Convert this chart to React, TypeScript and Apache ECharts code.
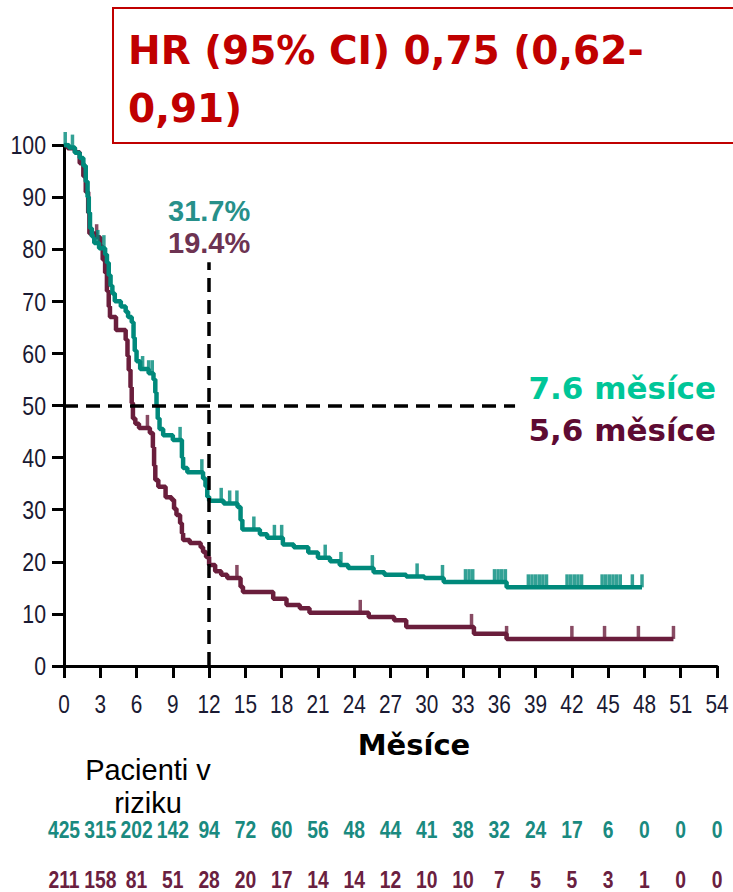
import React, { useEffect, useRef } from "react";
import * as echarts from "echarts";

// Kaplan–Meier steps: time in months, survival in %
const TEAL_TIME = [0, 0.4, 0.9, 1.3, 1.6, 1.8, 1.95, 2.05, 2.15, 2.3, 2.5, 2.9, 3.4, 3.55, 3.7, 3.85, 4.0, 4.2, 4.7, 5.1, 5.3, 5.6, 5.75, 5.85, 6.0, 6.3, 7.0, 7.4, 7.55, 7.65, 7.75, 7.9, 8.2, 9.0, 9.75, 9.85, 10.2, 11.5, 11.7, 11.85, 12.0, 13.2, 14.35, 14.6, 14.75, 16.2, 16.8, 18.1, 19.0, 20.2, 21.0, 22.0, 22.8, 23.5, 25.6, 26.5, 28.3, 29.8, 31.4, 36.6, 47.8];
const TEAL_SURV = [100, 99.5, 98.5, 97.5, 96, 93, 90, 87, 84, 82.5, 81.2, 80.2, 79, 77.4, 75, 73, 71.5, 70, 69, 68, 67, 66, 63, 60.5, 58.5, 57, 56.2, 55, 52.5, 50, 47.5, 45.5, 44.3, 43.4, 40, 38, 37.2, 36, 34.5, 32.5, 31.7, 31.2, 30.5, 28, 26.2, 25.3, 24.6, 23.3, 22.8, 21.8, 20.8, 20.1, 19.4, 18.8, 18.0, 17.5, 17.2, 16.9, 16.1, 15.1, 15.1];
const TEAL_CENSOR = [0.1, 0.7, 2.8, 3.3, 6.5, 7.0, 7.3, 9.6, 11.4, 13.0, 13.7, 14.3, 15.7, 17.4, 18.0, 21.6, 22.9, 25.5, 29.2, 31.3, 33.2, 33.5, 33.8, 35.6, 35.9, 36.2, 36.5, 38.4, 38.7, 39.0, 39.3, 39.6, 39.9, 41.6, 41.9, 42.2, 42.5, 42.8, 44.5, 44.8, 45.1, 45.4, 45.7, 46.0, 47.0, 47.8];

const MAROON_TIME = [0, 0.3, 0.9, 1.3, 1.6, 1.8, 2.0, 2.1, 2.6, 3.0, 3.2, 3.4, 3.55, 3.7, 3.8, 4.3, 5.1, 5.25, 5.35, 5.5, 5.6, 5.7, 5.9, 6.2, 7.1, 7.35, 7.45, 7.55, 7.8, 8.4, 8.9, 9.1, 9.3, 9.6, 9.75, 9.85, 10.4, 11.3, 11.5, 11.75, 12.0, 12.5, 13.0, 13.5, 14.6, 14.8, 17.3, 18.4, 19.5, 20.3, 25.2, 27.3, 28.3, 33.9, 36.6, 50.4];
const MAROON_SURV = [100, 99.4, 98.6, 96.5, 94, 91, 87, 83, 82.3, 80.5, 78, 75.5, 72, 69, 67, 64.5, 62.6, 59.5, 56.8, 53.5, 50.5, 47.5, 46.5, 45.7, 44.7, 42, 38.5, 35.7, 34.4, 32.4, 31.9, 30.2, 29, 27.4, 25.5, 24.2, 23.6, 22.8, 21.9, 20.9, 19.4, 18.2, 17.5, 16.9, 15.2, 14.2, 12.9, 11.7, 11.1, 10.2, 9.4, 8.8, 7.5, 6.2, 5.2, 5.2];
const MAROON_CENSOR = [2.7, 6.9, 14.3, 24.5, 33.7, 36.6, 42.0, 44.7, 47.5, 50.4];

// Axis ticks
const X_TICKS = [0, 3, 6, 9, 12, 15, 18, 21, 24, 27, 30, 33, 36, 39, 42, 45, 48, 51, 54];
const Y_TICKS = [0, 10, 20, 30, 40, 50, 60, 70, 80, 90, 100];

// Numbers at risk, one per x tick (0, 3, ... 54)
const RISK_TEAL = [425, 315, 202, 142, 94, 72, 60, 56, 48, 44, 41, 38, 32, 24, 17, 6, 0, 0, 0];
const RISK_MAROON = [211, 158, 81, 51, 28, 20, 17, 14, 14, 12, 10, 10, 7, 5, 5, 3, 1, 0, 0];

const MEDIAN_TEAL = "7.6 měsíce";
const MEDIAN_MAROON = "5,6 měsíce";
const LANDMARK = 12;
const HR_TEXT = "HR (95% CI) 0,75 (0,62-\n0,91)";
const X_TITLE = "Měsíce";
const RISK_TITLE = "Pacienti v\nriziku";

const TEAL = "#00897b";
const MAROON = "#6a1e3c";
const ARIAL = "'Liberation Sans', Arial, sans-serif";
const TAHOMA = "'DejaVu Sans', Verdana, sans-serif";

function survivalAt(times: number[], surv: number[], t: number): number {
  let v = surv[0];
  for (let i = 0; i < times.length; i++) {
    if (times[i] <= t) v = surv[i];
    else break;
  }
  return v;
}

const zip = (a: number[], b: number[]) => a.map((t, i) => [t, b[i]]);

export default function App() {
  const ref = useRef<HTMLDivElement>(null);

  useEffect(() => {
    if (!ref.current) return;
    const chart = echarts.init(ref.current, undefined, { renderer: "svg" });

    const tealAt12 = survivalAt(TEAL_TIME, TEAL_SURV, LANDMARK);
    const maroonAt12 = survivalAt(MAROON_TIME, MAROON_SURV, LANDMARK);

    const censorSeries = (times: number[], surv: number[], cens: number[], color: string) => ({
      type: "scatter",
      data: cens.map((t) => [t, survivalAt(times, surv, t)]),
      symbol: "rect",
      symbolSize: [3.5, 13],
      symbolOffset: [0, "-50%"],
      itemStyle: { color },
      silent: true,
      z: 3,
    });

    const pctLabel = (text: string, color: string) => ({
      show: true,
      formatter: text,
      color,
      fontSize: 29,
      fontWeight: "bold",
      fontFamily: ARIAL,
    });

    chart.setOption({
      animation: false,
      backgroundColor: "#ffffff",
      grid: { left: 64, right: 16, top: 145, bottom: 226 },
      xAxis: {
        type: "value",
        min: 0,
        max: 54,
        interval: 3,
        splitLine: { show: false },
        axisLine: { lineStyle: { color: "#000", width: 3 } },
        axisTick: { length: 12, lineStyle: { color: "#000", width: 3 } },
        axisLabel: { show: false },
      },
      yAxis: {
        type: "value",
        min: 0,
        max: 100,
        interval: 10,
        splitLine: { show: false },
        axisLine: { show: true, lineStyle: { color: "#000", width: 3 } },
        axisTick: { show: true, length: 12, lineStyle: { color: "#000", width: 3 } },
        axisLabel: { show: false },
      },
      series: [
        {
          type: "line",
          data: zip(MAROON_TIME, MAROON_SURV),
          step: "end",
          symbol: "none",
          lineStyle: { color: MAROON, width: 4.5 },
          z: 2,
        },
        {
          type: "line",
          data: zip(TEAL_TIME, TEAL_SURV),
          step: "end",
          symbol: "none",
          lineStyle: { color: TEAL, width: 4.5 },
          z: 2,
        },
        censorSeries(MAROON_TIME, MAROON_SURV, MAROON_CENSOR, MAROON),
        censorSeries(TEAL_TIME, TEAL_SURV, TEAL_CENSOR, TEAL),
        {
          // reference lines: median (50 %) and 12-month landmark
          type: "line",
          data: [],
          z: 5,
          markLine: {
            silent: true,
            symbol: "none",
            label: { show: false },
            lineStyle: { color: "#000", width: 3.5, type: [14, 8] },
            data: [
              [{ coord: [LANDMARK, 0] }, { coord: [LANDMARK, 77.5] }],
              [{ coord: [0, 50] }, { coord: [37.3, 50] }],
            ],
          },
          markPoint: {
            silent: true,
            symbol: "rect",
            symbolSize: 0,
            data: [
              { coord: [LANDMARK, 87.3], label: pctLabel(tealAt12.toFixed(1) + "%", "#27908a") },
              { coord: [LANDMARK, 81.2], label: pctLabel(maroonAt12.toFixed(1) + "%", "#6d3352") },
            ],
          },
        },
      ],
    });

    const toPx = (x: number, y: number) => chart.convertToPixel({ gridIndex: 0 }, [x, y]) as number[];

    // narrow tick labels and at-risk counts placed on the axis scale
    const narrowText = (x: number, y: number, text: string, fill: string, font: string, align: string, sx: number) => ({
      type: "text",
      x,
      y,
      scaleX: sx,
      silent: true,
      style: { text, fill, font, align, verticalAlign: "middle" },
      z: 11,
    });

    const xLabels = X_TICKS.map((m) =>
      narrowText(toPx(m, 0)[0], 704, String(m), "#1a1a33", `26px ${ARIAL}`, "center", 0.8)
    );
    const yLabels = Y_TICKS.map((v) =>
      narrowText(46, toPx(0, v)[1], String(v), "#1a1a33", `26px ${ARIAL}`, "right", 0.82)
    );
    const riskTeal = X_TICKS.map((m, i) =>
      narrowText(toPx(m, 0)[0], 830, String(RISK_TEAL[i]), "#1a8a80", `bold 23px ${ARIAL}`, "center", 0.84)
    );
    const riskMaroon = X_TICKS.map((m, i) =>
      narrowText(toPx(m, 0)[0], 880, String(RISK_MAROON[i]), "#6a2040", `bold 23px ${ARIAL}`, "center", 0.84)
    );

    chart.setOption({
      graphic: [
        {
          type: "rect",
          shape: { x: 113, y: 8, width: 640, height: 135 },
          style: { fill: "#fff", stroke: "#c00000", lineWidth: 2 },
          z: 10,
        },
        {
          type: "text",
          x: 128,
          y: 21,
          style: {
            text: HR_TEXT,
            fill: "#c00000",
            font: `bold 39px ${TAHOMA}`,
            lineHeight: 58,
          },
          z: 11,
        },
        {
          type: "text",
          x: 716,
          y: 388,
          style: { text: MEDIAN_TEAL, fill: "#00c698", font: `bold 31px ${TAHOMA}`, align: "right", verticalAlign: "middle" },
          z: 11,
        },
        {
          type: "text",
          x: 716,
          y: 430,
          style: { text: MEDIAN_MAROON, fill: "#5e0b33", font: `bold 31px ${TAHOMA}`, align: "right", verticalAlign: "middle" },
          z: 11,
        },
        {
          type: "text",
          x: 414,
          y: 745,
          style: { text: X_TITLE, fill: "#000", font: `bold 29px ${TAHOMA}`, align: "center", verticalAlign: "middle" },
          z: 11,
        },
        {
          type: "text",
          x: 148,
          y: 770,
          style: { text: RISK_TITLE.split("\n")[0], fill: "#000", font: `29px ${ARIAL}`, align: "center", verticalAlign: "middle" },
          z: 11,
        },
        {
          type: "text",
          x: 148,
          y: 803,
          style: { text: RISK_TITLE.split("\n")[1], fill: "#000", font: `29px ${ARIAL}`, align: "center", verticalAlign: "middle" },
          z: 11,
        },
        ...xLabels,
        ...yLabels,
        ...riskTeal,
        ...riskMaroon,
      ],
    });

    return () => chart.dispose();
  }, []);

  return (
    <div
      ref={ref}
      style={{ position: "fixed", left: 0, top: 0, width: 733, height: 892, background: "#fff" }}
    />
  );
}
